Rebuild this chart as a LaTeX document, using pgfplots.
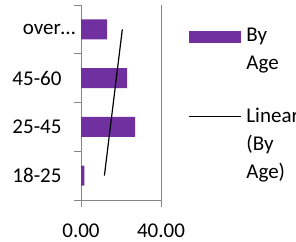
\documentclass[border=0pt]{standalone}
\usepackage{fontspec}
\setmainfont{Carlito}
\usepackage{pgfplots}
\pgfplotsset{compat=1.18}
\definecolor{barpurple}{HTML}{7030A0}
\definecolor{axgray}{HTML}{868686}
\begin{document}
\begin{tikzpicture}
\begin{axis}[
  at={(81pt,41pt)}, anchor=south west,
  scale only axis, width=80pt, height=195pt,
  xmin=0, xmax=40, ymin=-0.5, ymax=3.5,
  axis x line*=bottom, axis y line*=left,
  axis line style={axgray, line width=1pt},
  xtick={0,40},
  xmajorgrids, major x grid style={axgray, line width=1pt},
  ytick={0,1,2,3},
  yticklabels={18-25,25-45,45-60,over…\kern-14pt},
  minor ytick={-0.5,0.5,1.5,2.5,3.5},
  major y tick style={draw=none},
  minor y tick style={axgray, line width=1pt},
  major x tick style={axgray, line width=1pt},
  tick align=outside,
  major tick length=7pt, minor tick length=7pt,
  tick label style={font=\fontsize{21}{28}\selectfont},
  /pgf/number format/assume math mode=true,
  xticklabel style={yshift=-13pt, /pgf/number format/.cd, fixed, fixed zerofill, precision=2},
  yticklabel style={xshift=-9pt},
  legend style={at={(1.3375,0.892)}, anchor=north west, draw=none, fill=none,
    inner sep=0pt, row sep=61pt, column sep=3pt, font=\fontsize{21}{28}\selectfont,
    nodes={anchor=base west}},
  legend cell align=left,
]
\addplot[xbar, bar width=20pt, fill=barpurple, draw=none,
  legend image code/.code={\fill[barpurple] (0pt,-1.3pt) rectangle (52pt,10.7pt);}]
  coordinates {(1.7,0) (27,1) (23,2) (13,3)};
\addlegendentry{\vtop{\hbox{By}\hbox{Age}}}
\addplot[black, line width=1.2pt, sharp plot, mark=none,
  legend image code/.code={\draw[black, line width=1.2pt] (0pt,6.5pt) -- (52pt,6.5pt);}]
  coordinates {(11.7,0) (20.66,3)};
\addlegendentry{\vtop{\hbox{Linear}\hbox{(By}\hbox{Age)}}}
\end{axis}
\pgfresetboundingbox
\path[use as bounding box] (0,0) rectangle (296pt,241pt);
\end{tikzpicture}
\end{document}
